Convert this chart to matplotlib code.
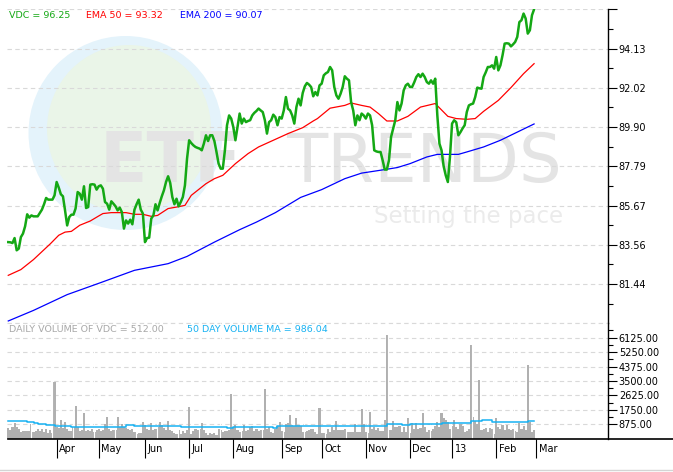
import matplotlib.pyplot as plt
from matplotlib.patches import Ellipse
from matplotlib.lines import Line2D
import numpy as np

# daily closes of VDC, one value per trading day (Mar 2012 - Feb 2013)
vdc = [83.70, 83.69, 83.65, 83.92, 83.26, 83.35, 83.97, 84.16, 84.55, 85.20,
       85.02, 85.14, 85.09, 85.09, 85.09, 85.27, 85.45, 85.74, 86.08, 85.99,
       85.99, 85.99, 86.22, 86.94, 86.64, 86.28, 86.17, 85.41, 84.60, 85.05,
       85.18, 85.18, 85.51, 86.40, 86.31, 85.99, 86.71, 85.54, 85.59, 86.80,
       86.82, 86.80, 86.53, 86.71, 86.76, 86.58, 85.86, 85.77, 85.45, 85.90,
       85.77, 85.63, 85.41, 85.56, 85.32, 84.43, 84.87, 84.70, 84.91, 84.66,
       85.45, 85.74, 85.99, 85.45, 85.24, 83.70, 83.92, 83.94, 84.97, 85.14,
       85.74, 85.41, 85.81, 86.17, 86.49, 86.94, 87.25, 86.89, 86.13, 85.74,
       86.04, 85.63, 85.86, 86.13, 86.76, 88.20, 89.19, 89.04, 88.92, 88.83,
       88.78, 88.74, 88.65, 89.01, 89.46, 89.15, 89.46, 89.46, 89.15, 88.56,
       87.93, 87.66, 87.66, 88.65, 90.00, 90.53, 90.36, 89.90, 89.19, 89.90,
       90.63, 90.09, 90.36, 90.17, 90.23, 90.27, 90.53, 90.67, 90.77, 90.90,
       90.80, 90.71, 90.27, 89.55, 90.17, 90.27, 90.57, 90.44, 90.00, 90.44,
       90.36, 90.80, 91.52, 90.89, 90.80, 90.53, 90.09, 90.98, 91.43, 91.07,
       91.74, 92.10, 92.28, 92.19, 92.06, 91.56, 91.79, 91.61, 92.15, 92.24,
       92.69, 92.80, 92.87, 93.14, 92.96, 92.06, 91.61, 91.43, 91.70, 92.06,
       92.64, 92.51, 92.42, 91.25, 90.80, 90.00, 90.53, 90.27, 90.63, 90.53,
       90.36, 90.63, 90.53, 90.00, 88.65, 88.59, 88.56, 88.56, 88.11, 87.61,
       87.61, 88.11, 89.37, 89.82, 90.27, 91.25, 90.80, 91.17, 91.88, 92.15,
       92.24, 92.06, 92.06, 92.31, 92.60, 92.75, 92.60, 92.78, 92.60, 92.33,
       92.24, 92.42, 92.24, 92.51, 90.53, 89.01, 88.65, 87.79, 87.30, 86.94,
       88.29, 90.09, 90.27, 90.16, 89.46, 89.63, 89.83, 90.00, 90.71, 91.07,
       91.13, 91.17, 91.52, 92.03, 91.99, 91.97, 92.60, 92.85, 93.14, 93.14,
       93.23, 93.05, 93.68, 92.96, 93.23, 93.77, 94.40, 94.42, 94.40, 94.25,
       94.36, 94.49, 94.76, 95.56, 95.66, 96.02, 95.75, 94.94, 95.12, 95.93,
       96.25]

# moving averages (day index, value)
ema50_dia = [0, 6, 12, 20, 24, 27, 30, 34, 39, 43, 45, 49, 56, 60, 64, 68, 71,
             76, 80, 84, 87, 94, 98, 102, 108, 114, 119, 126, 133, 140, 145,
             147, 153, 160, 163, 168, 172, 176, 180, 185, 190, 196, 203, 209,
             213, 218, 222, 226, 233, 239, 245, 250]
ema50 = [81.91, 82.22, 82.76, 83.61, 84.07, 84.24, 84.28, 84.61, 84.84, 85.11,
         85.24, 85.29, 85.29, 85.20, 85.20, 85.09, 85.14, 85.51, 85.59, 85.68,
         86.22, 86.85, 87.12, 87.30, 87.93, 88.47, 88.83, 89.19, 89.55, 89.87,
         90.23, 90.36, 90.92, 91.07, 91.20, 91.07, 90.98, 90.63, 90.23, 90.23,
         90.48, 90.98, 91.17, 90.48, 90.36, 90.32, 90.36, 90.75, 91.34, 92.03,
         92.78, 93.32]

ema200_dia = [0, 12, 28, 44, 60, 76, 85, 98, 110, 118, 127, 139, 149, 160, 168,
              179, 185, 191, 199, 204, 214, 218, 226, 234, 242, 250]
ema200 = [79.45, 80.02, 80.87, 81.52, 82.18, 82.54, 82.93, 83.70, 84.37, 84.78,
          85.29, 86.11, 86.53, 87.12, 87.42, 87.61, 87.72, 87.93, 88.29, 88.43,
          88.43, 88.56, 88.83, 89.19, 89.63, 90.07]

# daily volume
volume = [620, 500, 680, 930, 700, 560, 380, 450, 450, 450, 450,
          870, 420, 480, 560, 480, 560, 400, 560, 350, 500,
          350, 3410, 700, 650, 1130, 650, 1000, 600, 450, 450,
          700, 1980, 700, 450, 500, 1560, 450, 550, 450, 600,
          400, 500, 600, 450, 550, 900, 1310, 600, 450, 500,
          550, 1310, 700, 870, 700, 650, 600, 500, 600, 400,
          300, 350, 350, 1000, 850, 600, 500, 930, 500, 600,
          700, 1030, 850, 650, 550, 1070, 500, 450, 350, 300,
          550, 300, 450, 350, 500, 1900, 300, 450, 600, 500,
          600, 930, 500, 350, 250, 350, 300, 350, 250, 600,
          500, 400, 450, 450, 550, 2720, 650, 850, 500, 400,
          450, 850, 450, 500, 700, 800, 450, 600, 450, 500,
          500, 3020, 600, 700, 400, 350, 600, 800, 1000, 450,
          400, 900, 930, 1430, 850, 800, 1270, 850, 800, 400,
          400, 450, 550, 580, 600, 400, 300, 1860, 350, 350,
          300, 600, 400, 700, 550, 1070, 550, 500, 550, 600,
          400, 400, 400, 400, 870, 400, 400, 1800, 900, 400,
          350, 1600, 600, 700, 500, 650, 450, 450, 1150, 6260,
          500, 500, 1070, 700, 700, 800, 400, 730, 400, 1270,
          350, 930, 600, 930, 600, 650, 1540, 700, 400, 500,
          450, 600, 800, 1000, 700, 1540, 1230, 1130, 1030, 600,
          800, 1130, 700, 600, 870, 800, 400, 450, 600, 5650,
          1330, 1100, 900, 3580, 500, 600, 650, 400, 650, 600,
          300, 1230, 700, 600, 830, 500, 830, 600, 500, 600,
          450, 400, 930, 600, 800, 500, 4440, 1000, 400, 512]

# 50 day volume MA (steps)
vol_ma_dia = [0, 9, 12, 14, 18, 22, 30, 56, 60, 82, 104, 107, 125, 126, 128,
              141, 180, 187, 191, 206, 220, 225, 230, 247, 250]
vol_ma = [1056, 996, 935, 875, 834, 794, 733, 834, 773, 693, 632, 713, 733, 673,
          794, 753, 875, 814, 875, 976, 1056, 1117, 996, 1056, 1056]

meses = ["Apr", "May", "Jun", "Jul", "Aug", "Sep", "Oct", "Nov", "Dec", "13", "Feb", "Mar"]
meses_dia = [23, 43, 65, 86, 107, 130, 149, 170, 191, 211, 232, 251]

ticks_preco = [81.44, 83.56, 85.67, 87.79, 89.90, 92.02, 94.13, 96.25]
ticks_volume = [875, 1750, 2625, 3500, 4375, 5250, 6125]

W, H = 673, 472
VERDE = "#14a814"
CIANO = "#18b2f2"
GRADE = "#d9d9d9"


def caixa(x0, y0, x1, y1):
    # pixel box -> figure fraction
    return [x0 / W, 1 - y1 / H, (x1 - x0) / W, (y1 - y0) / H]


fig = plt.figure(figsize=(W / 100, H / 100), dpi=100)
ax = fig.add_axes(caixa(7, 9.3, 607.7, 323.2))
axv = fig.add_axes(caixa(7, 323.2, 607.7, 438.7), sharex=ax)

# watermark
ax.add_patch(Ellipse((125.5 / W, 1 - 133 / H), 194 / W, 194 / H, transform=fig.transFigure,
                     facecolor="#e4f3fb", edgecolor="none", zorder=0.1))
ax.add_patch(Ellipse((129 / W, 1 - 129 / H), 164 / W, 168 / H, transform=fig.transFigure,
                     facecolor="#eaf5e8", edgecolor="none", zorder=0.2))
ax.text(100 / W, 1 - 181.7 / H, "ETF", transform=fig.transFigure, fontsize=50,
        fontweight="bold", color="#e4e4e4", ha="left", va="baseline", zorder=0.3)
ax.text(562 / W, 1 - 181.7 / H, "TRENDS", transform=fig.transFigure, fontsize=48.5,
        color="#e4e4e4", ha="right", va="baseline", zorder=0.3)
ax.text(562.7 / W, 1 - 222.7 / H, "Setting the pace", transform=fig.transFigure,
        fontsize=16.5, color="#ebebeb", ha="right", va="baseline", zorder=0.3)

dias = np.arange(len(vdc))
ax.plot(ema200_dia, ema200, color="#0000ff", lw=0.9, zorder=3)
ax.plot(ema50_dia, ema50, color="#ff0000", lw=0.9, zorder=3)
ax.plot(dias, vdc, color=VERDE, lw=1.8, zorder=4)

ax.set_xlim(-0.6, 285.0)
ax.set_ylim(79.33, 96.25)
ax.yaxis.tick_right()
ax.set_yticks(ticks_preco)
ax.set_yticklabels(["%.2f" % t for t in ticks_preco[:-1]] + [""])
ax.set_yticks([80.39] + [(a + b) / 2 for a, b in zip(ticks_preco[:-1], ticks_preco[1:])], minor=True)
ax.tick_params(axis="y", which="major", direction="out", length=6.5, width=0.8, pad=1.5, labelsize=7)
ax.tick_params(axis="y", which="minor", direction="out", length=3.6, width=0.8)
ax.tick_params(axis="x", which="both", bottom=False, labelbottom=False)
ax.grid(axis="y", color=GRADE, linestyle=(0, (4, 3)), linewidth=0.8, zorder=0.5)
ax.axhline(79.33, color=GRADE, linestyle=(0, (4, 3)), linewidth=0.8, clip_on=False, zorder=0.5)
for lado in ["top", "left", "bottom"]:
    ax.spines[lado].set_visible(False)
ax.spines["right"].set_linewidth(1)

# legend texts
fig.text(9.3 / W, 1 - 15 / H, "VDC = 96.25", color=VERDE, fontsize=6.8, va="center")
fig.text(86 / W, 1 - 15 / H, "EMA 50 = 93.32", color="#ff0000", fontsize=6.8, va="center")
fig.text(180 / W, 1 - 15 / H, "EMA 200 = 90.07", color="#0000ff", fontsize=6.8, va="center")
fig.text(9.3 / W, 1 - 330 / H, "DAILY VOLUME OF VDC = 512.00", color="#a8a8a8", fontsize=6.8, va="center")
fig.text(186.7 / W, 1 - 330 / H, "50 DAY VOLUME MA = 986.04", color=CIANO, fontsize=6.8, va="center")

# volume panel
axv.bar(dias, volume, width=1.0, color="#b0b0b0", linewidth=0, zorder=2)
axv.vlines(np.arange(10.6, 250, 10), 0, 7000, color="white", lw=0.8, zorder=2.5)
axv.plot(vol_ma_dia, vol_ma, drawstyle="steps-post", color=CIANO, lw=1.1, zorder=3)
axv.set_ylim(0, 7000)
axv.yaxis.tick_right()
axv.set_yticks(ticks_volume)
axv.set_yticklabels(["%.2f" % t for t in ticks_volume])
axv.set_yticks([437.5 + 875 * k for k in range(1, 8)], minor=True)
axv.tick_params(axis="y", which="major", direction="out", length=6.5, width=0.8, pad=1.5, labelsize=7)
axv.tick_params(axis="y", which="minor", direction="out", length=3.6, width=0.8)
axv.grid(axis="y", color=GRADE, linestyle=(0, (4, 3)), linewidth=0.8, zorder=0.5)
axv.set_axisbelow(True)
axv.axhline(7000, color=GRADE, linestyle=(0, (4, 3)), linewidth=0.8, clip_on=False, zorder=0.5)

axv.set_xticks(meses_dia)
axv.set_xticklabels([])
axv.tick_params(axis="x", which="major", direction="out", length=13.7, width=0.8)
axv.tick_params(axis="x", which="minor", bottom=False)
for nome, d in zip(meses, meses_dia):
    axv.annotate(nome, xy=(d, 0), xycoords=("data", "axes fraction"), xytext=(2.5, -10),
                 textcoords="offset pixels", fontsize=7, ha="left", va="center")

for lado in ["top", "left"]:
    axv.spines[lado].set_visible(False)
axv.spines["right"].set_linewidth(1)
axv.spines["bottom"].set_visible(False)

# bottom axis line runs to the right edge, plus the light frame line
fig.add_artist(Line2D([8 / W, 1.0], [1 - 439 / H, 1 - 439 / H], color="black", lw=1.2))
fig.add_artist(Line2D([0, 1.0], [1 - 470 / H, 1 - 470 / H], color="#d4d4d4", lw=1.0))

plt.savefig("out.png", dpi=100)
plt.close()
